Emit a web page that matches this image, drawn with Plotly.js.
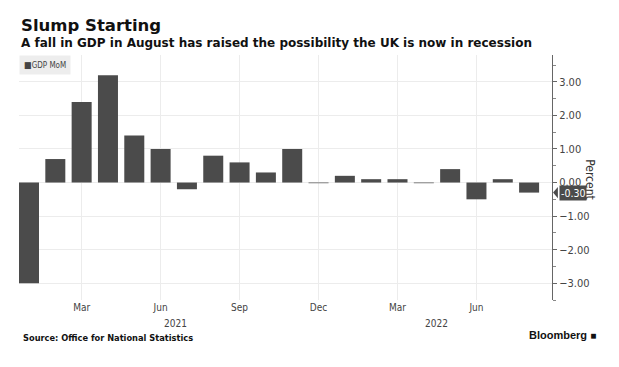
<!DOCTYPE html>
<html><head><meta charset="utf-8">
<script src="https://cdn.plot.ly/plotly-3.0.1.min.js"></script>
<style>html,body{margin:0;padding:0;background:#fff}#c{width:619px;height:367px}</style>
</head><body><div id="c"></div>
<script>
const months = ["Jan 2021","Feb 2021","Mar 2021","Apr 2021","May 2021","Jun 2021","Jul 2021","Aug 2021","Sep 2021","Oct 2021","Nov 2021","Dec 2021",
                "Jan 2022","Feb 2022","Mar 2022","Apr 2022","May 2022","Jun 2022","Jul 2022","Aug 2022"];
const gdpMoM = [-3.0,0.7,2.4,3.2,1.4,1.0,-0.2,0.8,0.6,0.3,1.0,-0.02,
                0.2,0.1,0.1,-0.02,0.4,-0.5,0.1,-0.3];
const tickMonths = ["Mar 2021","Jun 2021","Sep 2021","Dec 2021","Mar 2022","Jun 2022"];
const tickLabels = ["Mar","Jun","Sep","Dec","Mar","Jun"];
const yearLabels = ["2021","2022"];

const font = "'DejaVu Sans Condensed','DejaVu Sans',sans-serif";
const bold = "'DejaVu Sans','Verdana',sans-serif";
const xr = [-0.38, months.length - 1 + 0.87];
// year label positions: centre of each year's visible span
const yearAnn = yearLabels.map(y => {
  const idx = months.map((m,i)=>m.endsWith(y)?i:-1).filter(i=>i>=0);
  const a = Math.max(xr[0], idx[0]-0.5), b = Math.min(xr[1], idx[idx.length-1]+0.5);
  return {x:(a+b)/2, y:0, xref:'x', yref:'paper', yshift:-16, text:y, showarrow:false,
          font:{family:font,size:10,color:'#444'}, yanchor:'top'};
});
const last = gdpMoM[gdpMoM.length-1];

const data = [{type:'bar', x:months, y:gdpMoM, name:'GDP MoM',
  marker:{color:'#4b4b4b'}, hoverinfo:'skip'}];

const layout = {
  width:619, height:367, paper_bgcolor:'#fff', plot_bgcolor:'#fff',
  margin:{l:19, r:67, t:55, b:67},
  showlegend:false, bargap:0.24,
  xaxis:{type:'category', range:xr, tickmode:'array', tickvals:tickMonths, ticktext:tickLabels,
    showgrid:true, gridcolor:'#ececec', gridwidth:1, ticks:'', zeroline:false, showline:false,
    tickfont:{family:font,size:10,color:'#444'}},
  yaxis:{side:'right', range:[-3.5,3.8], dtick:1, tick0:0, tickformat:'.2f',
    ticks:'outside', ticklen:4, tickcolor:'#666', showline:true, linecolor:'#666', linewidth:1,
    minor:{dtick:0.5, ticks:'outside', ticklen:3, tickcolor:'#888', showgrid:false},
    showgrid:true, gridcolor:'#ececec', zeroline:false,
    tickfont:{family:font,size:11,color:'#444'}},
  shapes:[
    {type:'path', xref:'paper', yref:'y', path:`M 1.002,${last} L 1.011,${last+0.17} L 1.011,${last-0.17} Z`,
     fillcolor:'#4b4b4b', line:{width:0}}
  ],
  annotations:[
    {xref:'paper', yref:'paper', x:0, y:1, xshift:0, xanchor:'left', yanchor:'bottom',
     text:'Slump Starting', showarrow:false, yshift:18,
     font:{family:bold, size:16.5, color:'#111', weight:'bold'}},
    {xref:'paper', yref:'paper', x:0, y:1, xshift:0, yanchor:'bottom', xanchor:'left', yshift:3,
     text:'A fall in GDP in August has raised the possibility the UK is now in recession', showarrow:false,
     font:{family:bold, size:12, color:'#111', weight:'bold'}},
    {xref:'paper', yref:'paper', x:0, y:1, xanchor:'left', yanchor:'top', xshift:0, yshift:0,
     text:'<span style="font-size:9px">■</span>GDP MoM', showarrow:false, bgcolor:'#ededed', borderpad:4,
     font:{family:font, size:8, color:'#444'}},
    {xref:'paper', yref:'y', x:1, y:last, xanchor:'left', xshift:7, text:last.toFixed(2), showarrow:false,
     bgcolor:'#4b4b4b', borderpad:1, font:{family:font, size:10.5, color:'#fff'}},
    {xref:'paper', yref:'y', x:1, y:0.1, xanchor:'center', xshift:38, text:'Percent', textangle:90, showarrow:false,
     font:{family:font, size:12, color:'#333'}},
    {xref:'paper', yref:'paper', x:0, y:0, xanchor:'left', yanchor:'middle', xshift:2, yshift:-37,
     text:'Source: Office for National Statistics', showarrow:false,
     font:{family:font, size:9.2, color:'#111', weight:'bold'}},
    {xref:'paper', yref:'paper', x:1, y:0, xanchor:'right', yanchor:'middle', xshift:46, yshift:-35,
     text:'Bloomberg <span style="font-size:10px">■</span>', showarrow:false,
     font:{family:"'Liberation Sans',Arial,sans-serif", size:11, color:'#111', weight:'bold'}}
  ].concat(yearAnn)
};
Plotly.newPlot('c', data, layout, {displayModeBar:false, staticPlot:true});
</script></body></html>
